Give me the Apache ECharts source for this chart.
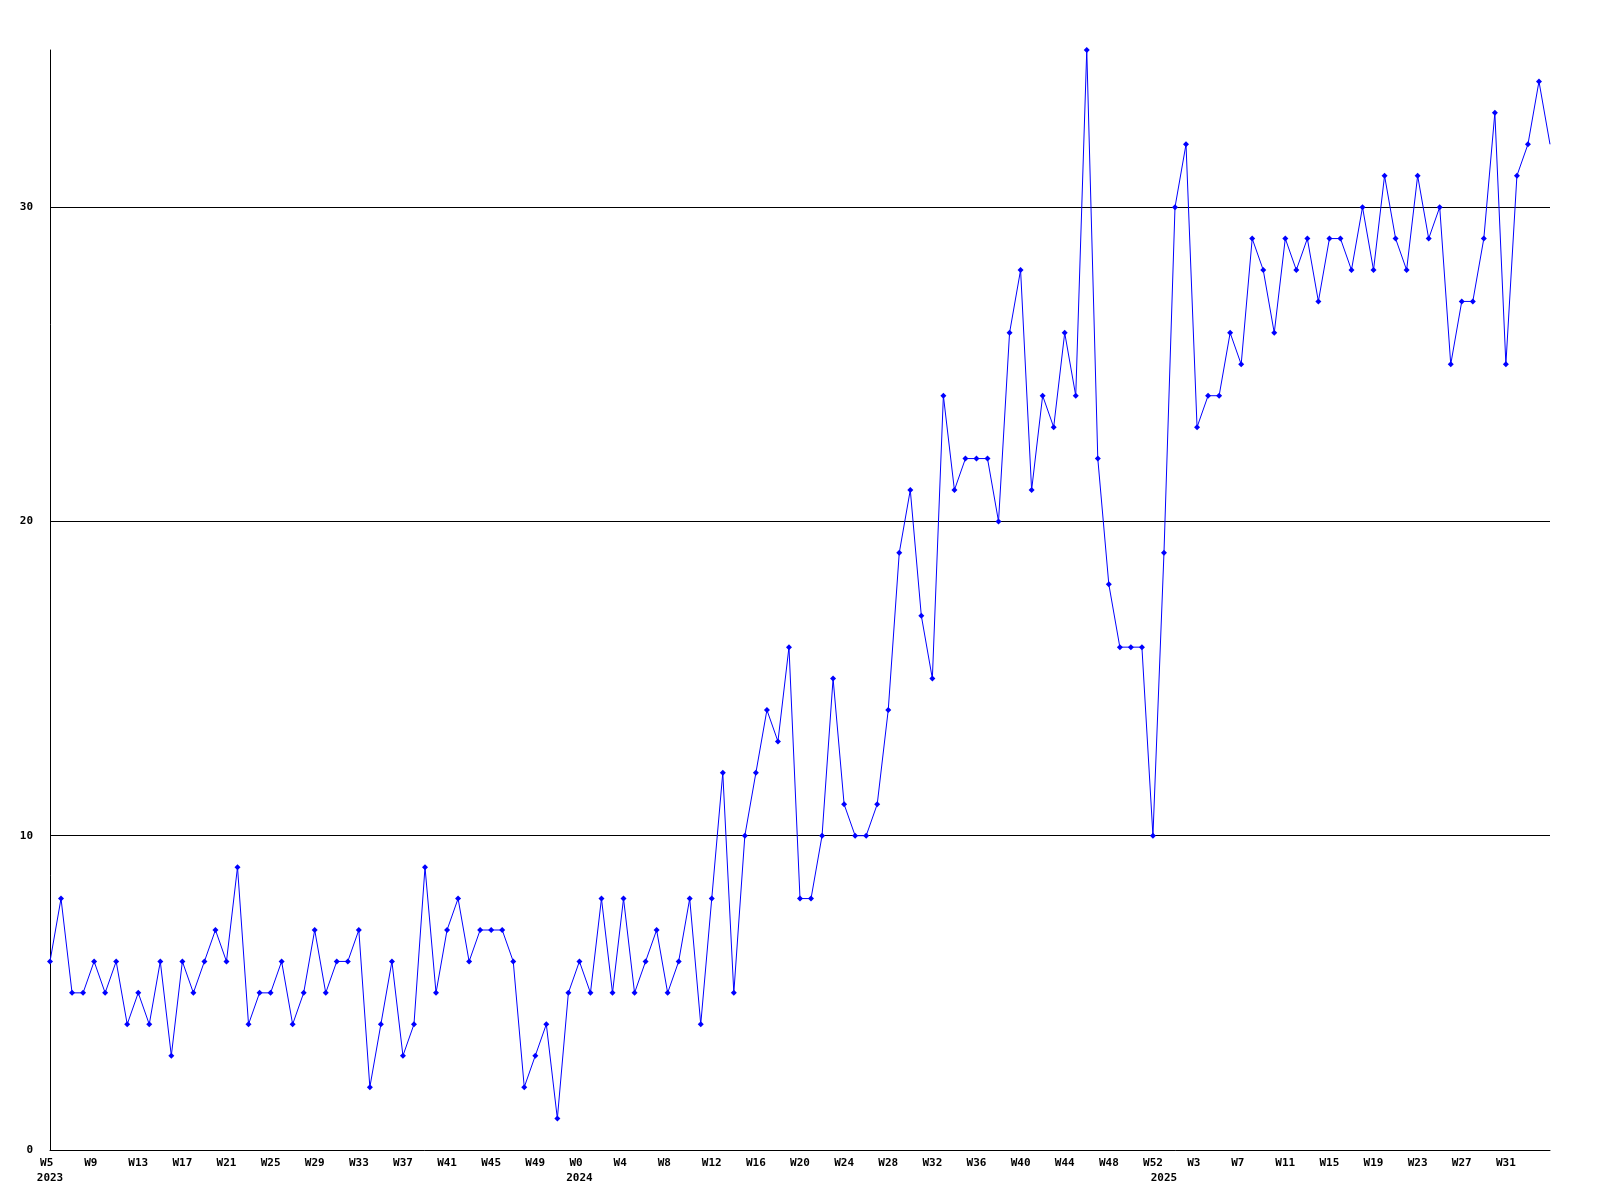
<!DOCTYPE html>
<html>
<head>
<meta charset="utf-8">
<script src="https://cdn.jsdelivr.net/npm/echarts@6/dist/echarts.min.js"></script>
<style>
html,body{margin:0;padding:0;background:#fff;}
#chart{width:1600px;height:1200px;}
</style>
</head>
<body>
<div id="chart"></div>
<script>
// Week ranges shown on the x axis (one point per week)
const years = ['2023', '2024', '2025'];
const firstWeek = [5, 0, 0];
const lastWeek = [52, 52, 35];

// Weekly counts, 2023 W5 .. 2025 W35
const counts = [
  6, 8, 5, 5, 6, 5, 6, 4, 5, 4,
  6, 3, 6, 5, 6, 7, 6, 9, 4, 5,
  5, 6, 4, 5, 7, 5, 6, 6, 7, 2,
  4, 6, 3, 4, 9, 5, 7, 8, 6, 7,
  7, 7, 6, 2, 3, 4, 1, 5, 6, 5,
  8, 5, 8, 5, 6, 7, 5, 6, 8, 4,
  8, 12, 5, 10, 12, 14, 13, 16, 8, 8,
  10, 15, 11, 10, 10, 11, 14, 19, 21, 17,
  15, 24, 21, 22, 22, 22, 20, 26, 28, 21,
  24, 23, 26, 24, 35, 22, 18, 16, 16, 16,
  10, 19, 30, 32, 23, 24, 24, 26, 25, 29,
  28, 26, 29, 28, 29, 27, 29, 29, 28, 30,
  28, 31, 29, 28, 31, 29, 30, 25, 27, 27,
  29, 33, 25, 31, 32, 34, 32
];

// y-axis ticks
const yTicks = [0, 10, 20, 30];
const yMax = 35;

// Build categories
const categories = [];
const yearStart = {};
years.forEach((y, i) => {
  yearStart[categories.length] = y;
  for (let w = firstWeek[i]; w <= lastWeek[i]; w++) {
    categories.push('W' + w);
  }
});
const lastIdx = categories.length - 1;

const seriesData = counts.map((v, i) =>
  i === counts.length - 1 ? { value: v, symbol: 'none' } : v
);

const chart = echarts.init(document.getElementById('chart'), null, { renderer: 'canvas' });
const font = '"DejaVu Sans Mono", monospace';

chart.setOption({
  animation: false,
  backgroundColor: '#ffffff',
  grid: { left: 50, right: 50, top: 50, bottom: 50, containLabel: false },
  xAxis: {
    type: 'category',
    data: categories,
    boundaryGap: false,
    axisLine: { show: true, lineStyle: { color: '#000', width: 1 } },
    axisTick: { show: false },
    splitLine: { show: false },
    axisLabel: {
      color: '#000',
      fontFamily: font,
      fontWeight: 'bold',
      fontSize: 11,
      lineHeight: 15,
      margin: 6,
      interval: (idx) => idx !== lastIdx && (idx % 4 === 0 || yearStart[idx] !== undefined),
      formatter: (val, idx) => {
        let top = idx % 4 === 0 ? val : '';
        while (top.length < 3) top += ' ';
        return yearStart[idx] !== undefined ? top + '\n' + yearStart[idx] : top;
      }
    }
  },
  yAxis: {
    type: 'value',
    min: yTicks[0],
    max: yMax,
    interval: yTicks[1] - yTicks[0],
    axisLine: { show: true, lineStyle: { color: '#000', width: 1 } },
    axisTick: { show: false },
    splitLine: { show: true, showMinLine: false, showMaxLine: false, lineStyle: { color: '#000', width: 1 } },
    axisLabel: {
      color: '#000',
      fontFamily: font,
      fontWeight: 'bold',
      fontSize: 11,
      margin: 17,
      showMaxLabel: false,
      formatter: (v) => (yTicks.indexOf(v) >= 0 ? String(v) : '')
    }
  },
  series: [{
    type: 'line',
    data: seriesData,
    showAllSymbol: true,
    symbol: 'diamond',
    symbolSize: 6,
    color: '#0000ff',
    lineStyle: { color: '#0000ff', width: 1 },
    itemStyle: { color: '#0000ff' },
    emphasis: { disabled: true }
  }]
});
</script>
</body>
</html>
